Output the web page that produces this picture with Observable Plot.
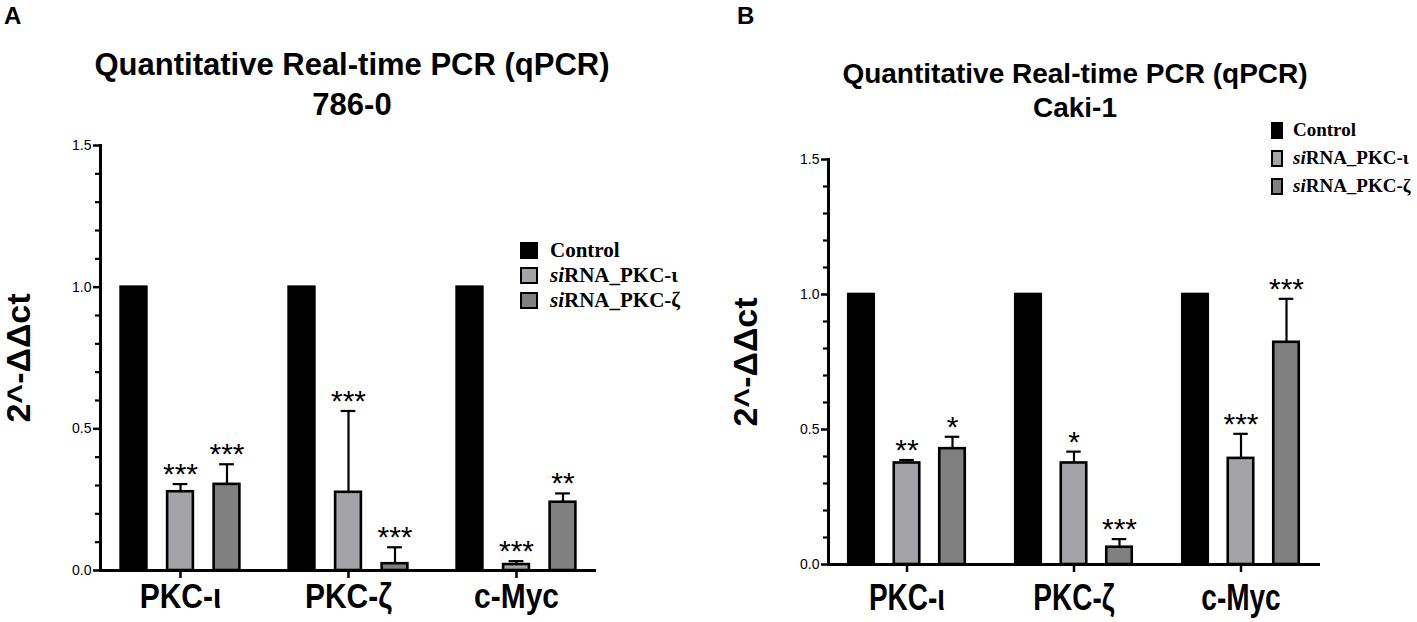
<!DOCTYPE html>
<html><head><meta charset="utf-8">
<script src="https://cdn.jsdelivr.net/npm/d3@7"></script>
<script src="https://cdn.jsdelivr.net/npm/@observablehq/plot@0.6"></script>
<style>
html,body{margin:0;padding:0;background:#fff;}
#page{position:relative;width:1417px;height:622px;overflow:hidden;font-family:"Liberation Sans",Arial,sans-serif;color:#000;}
.panel{position:absolute;top:0;}
.letter{position:absolute;font-weight:bold;font-size:24px;line-height:24px;}
.title{position:absolute;font-weight:bold;text-align:center;white-space:nowrap;transform:translateX(-50%);}
.legend{position:absolute;font-family:"Liberation Serif","Times New Roman",serif;font-weight:bold;}
.legend .row{position:absolute;white-space:nowrap;display:flex;align-items:center;}
.legend .sw{position:absolute;box-sizing:border-box;border:2px solid #000;}
</style></head><body><div id="page"></div>
<script>
// ---- data ----
const genes = ["PKC-ι", "PKC-ζ", "c-Myc"];
const series = ["Control", "siRNA_PKC-ι", "siRNA_PKC-ζ"];
const seriesColors = ["#000000", "#a4a4a8", "#808080"];
const yTicks = [0, 0.5, 1.0, 1.5];
const yMinorTicks = [0.1, 0.2, 0.3, 0.4, 0.6, 0.7, 0.8, 0.9, 1.1, 1.2, 1.3, 1.4];
const yLabel = "2^-ΔΔct";

// Panel A : 786-0
const a_control = [1, 1, 1];
const a_siPKCi = [0.278, 0.276, 0.021];
const a_siPKCi_err = [0.027, 0.287, 0.012];
const a_siPKCz = [0.304, 0.024, 0.241];
const a_siPKCz_err = [0.071, 0.058, 0.031];
const a_siPKCi_sig = ["***", "***", "***"];
const a_siPKCz_sig = ["***", "***", "**"];

// Panel B : Caki-1
const b_control = [1, 1, 1];
const b_siPKCi = [0.376, 0.376, 0.393];
const b_siPKCi_err = [0.011, 0.042, 0.091];
const b_siPKCz = [0.429, 0.064, 0.823];
const b_siPKCz_err = [0.044, 0.030, 0.161];
const b_siPKCi_sig = ["**", "*", "***"];
const b_siPKCz_sig = ["*", "***", "***"];

// ---- helpers ----
function rowsFor(control, si1, si1err, si1sig, si2, si2err, si2sig) {
  const out = [];
  genes.forEach((g, i) => out.push({gene: g, series: series[0], k: 0, value: control[i], err: 0, sig: ""}));
  genes.forEach((g, i) => out.push({gene: g, series: series[1], k: 1, value: si1[i], err: si1err[i], sig: si1sig[i]}));
  genes.forEach((g, i) => out.push({gene: g, series: series[2], k: 2, value: si2[i], err: si2err[i], sig: si2sig[i]}));
  return out;
}

function panel(rows, o) {
  const bw = (o.xRange[1] - o.xRange[0]) / genes.length;
  const frameW = o.width - o.marginLeft - o.marginRight;
  const frameH = 622 - o.marginTop - o.marginBottom;
  const marks = [];
  // y ticks (minor + major) drawn as short rules just left of the axis
  marks.push(Plot.ruleY(yMinorTicks, {y: d => d, insetRight: frameW, insetLeft: -5, strokeWidth: 2.2}));
  marks.push(Plot.ruleY(yTicks, {y: d => d, insetRight: frameW, insetLeft: -7, strokeWidth: 2.5}));
  marks.push(Plot.axisY(yTicks, {tickSize: 0, tickPadding: 9, tickFormat: d3.format(".1f"), fontSize: o.yFont, label: null}));
  // x ticks below the axis
  marks.push(Plot.ruleX(genes, {x: d => d, insetTop: frameH, insetBottom: -8, strokeWidth: 2.5}));
  marks.push(Plot.axisX({tickSize: 0, tickPadding: o.xPad + 8, fontSize: o.xFont, fontWeight: "bold", label: null}));
  series.forEach((s, k) => {
    const d = rows.filter(r => r.k === k);
    const dx = (k - 1) * o.offset;
    marks.push(Plot.barY(d, {x: "gene", y: "value", fill: seriesColors[k], stroke: "#000", strokeWidth: 2.6,
      insetLeft: (bw - o.barW) / 2, insetRight: (bw - o.barW) / 2, dx}));
    const e = d.filter(r => r.err > 0);
    marks.push(Plot.ruleX(e, {x: "gene", y1: "value", y2: r => r.value + r.err, dx, strokeWidth: 2.2}));
    marks.push(Plot.tickY(e, {x: "gene", y: r => r.value + r.err, dx, insetLeft: (bw - o.capW) / 2, insetRight: (bw - o.capW) / 2, strokeWidth: 2.2}));
    marks.push(Plot.text(e, {x: "gene", y: r => r.value + r.err, text: "sig", dx, dy: o.sigDy, fontSize: o.sigFont, lineAnchor: "bottom", textAnchor: "middle"}));
  });
  marks.push(Plot.frame({anchor: "left", strokeWidth: 3}));
  marks.push(Plot.frame({anchor: "bottom", strokeWidth: 3}));
  marks.push(Plot.text([yLabel], {frameAnchor: "left", dx: o.labelDx, rotate: -90, textAnchor: "middle", lineAnchor: "middle", fontSize: o.labelFont, fontWeight: "bold"}));
  const svg = Plot.plot({
    width: o.width, height: 622,
    marginLeft: o.marginLeft, marginRight: o.marginRight, marginTop: o.marginTop, marginBottom: o.marginBottom,
    x: {type: "band", domain: genes, range: o.xRange, padding: 0},
    y: {domain: [0, 1.5], range: [622 - o.marginBottom, o.marginTop]},
    style: {fontFamily: "Liberation Sans, Arial", color: "#000", background: "transparent", overflow: "visible"},
    marks
  });
  // taller, condensed-looking category labels
  svg.querySelectorAll('g[aria-label="x-axis tick label"] text').forEach(t => {
    const tr = t.getAttribute("transform") || "";
    t.setAttribute("transform", tr + ` scale(1,${o.xStretch})`);
  });
  return svg;
}

const page = document.getElementById("page");
function addDiv(cls, css, html) {
  const d = document.createElement("div");
  d.className = cls;
  Object.assign(d.style, css);
  d.innerHTML = html;
  page.appendChild(d);
  return d;
}

const rowsA = rowsFor(a_control, a_siPKCi, a_siPKCi_err, a_siPKCi_sig, a_siPKCz, a_siPKCz_err, a_siPKCz_sig);
const rowsB = rowsFor(b_control, b_siPKCi, b_siPKCi_err, b_siPKCi_sig, b_siPKCz, b_siPKCz_err, b_siPKCz_sig);

const svgA = panel(rowsA, {width: 700, marginLeft: 100, marginRight: 106, marginTop: 145, marginBottom: 52,
  xRange: [95.9, 600.6], offset: 46.5, barW: 26, capW: 15, sigFont: 30, sigDy: 0,
  xFont: 30, xPad: 5, xStretch: 1.15, yFont: 14, labelFont: 34, labelDx: -81});
const svgB = panel(rowsB, {width: 707, marginLeft: 118, marginRight: 99, marginTop: 159, marginBottom: 58,
  xRange: [112.25, 614.75], offset: 45.5, barW: 26, capW: 15, sigFont: 30, sigDy: 0,
  xFont: 28, xPad: 12, xStretch: 1.3, yFont: 14, labelFont: 34, labelDx: -82});

const pa = addDiv("panel", {left: "0px", width: "700px", height: "622px"}, "");
pa.appendChild(svgA);
const pb = addDiv("panel", {left: "710px", width: "707px", height: "622px"}, "");
pb.appendChild(svgB);

// panel letters
addDiv("letter", {left: "4px", top: "4px"}, "A");
addDiv("letter", {left: "737px", top: "4px"}, "B");

// titles
addDiv("title", {left: "352px", top: "45px", fontSize: "31px", lineHeight: "40px"}, "Quantitative Real-time PCR (qPCR)<br>786-0");
addDiv("title", {left: "1075px", top: "57px", fontSize: "28px", lineHeight: "34px"}, "Quantitative Real-time PCR (qPCR)<br>Caki-1");

// legends
function legend(x, y0, step, swW, swH, textX, fontSize) {
  const lg = addDiv("legend", {left: "0px", top: "0px", fontSize: fontSize + "px"}, "");
  series.forEach((s, k) => {
    const cy = y0 + k * step;
    const sw = document.createElement("div");
    sw.className = "sw";
    Object.assign(sw.style, {left: x + "px", top: (cy - swH / 2) + "px", width: swW + "px", height: swH + "px", background: seriesColors[k]});
    lg.appendChild(sw);
    const t = document.createElement("div");
    t.className = "row";
    Object.assign(t.style, {left: textX + "px", top: (cy - 14) + "px", height: "28px"});
    t.innerHTML = s.startsWith("si") ? "<i>si</i>" + s.slice(2) : s;
    lg.appendChild(t);
  });
}
legend(520, 250, 25, 18, 17, 550, 21);
legend(1271, 130, 28, 12, 17, 1293, 19);
</script>
</body></html>
